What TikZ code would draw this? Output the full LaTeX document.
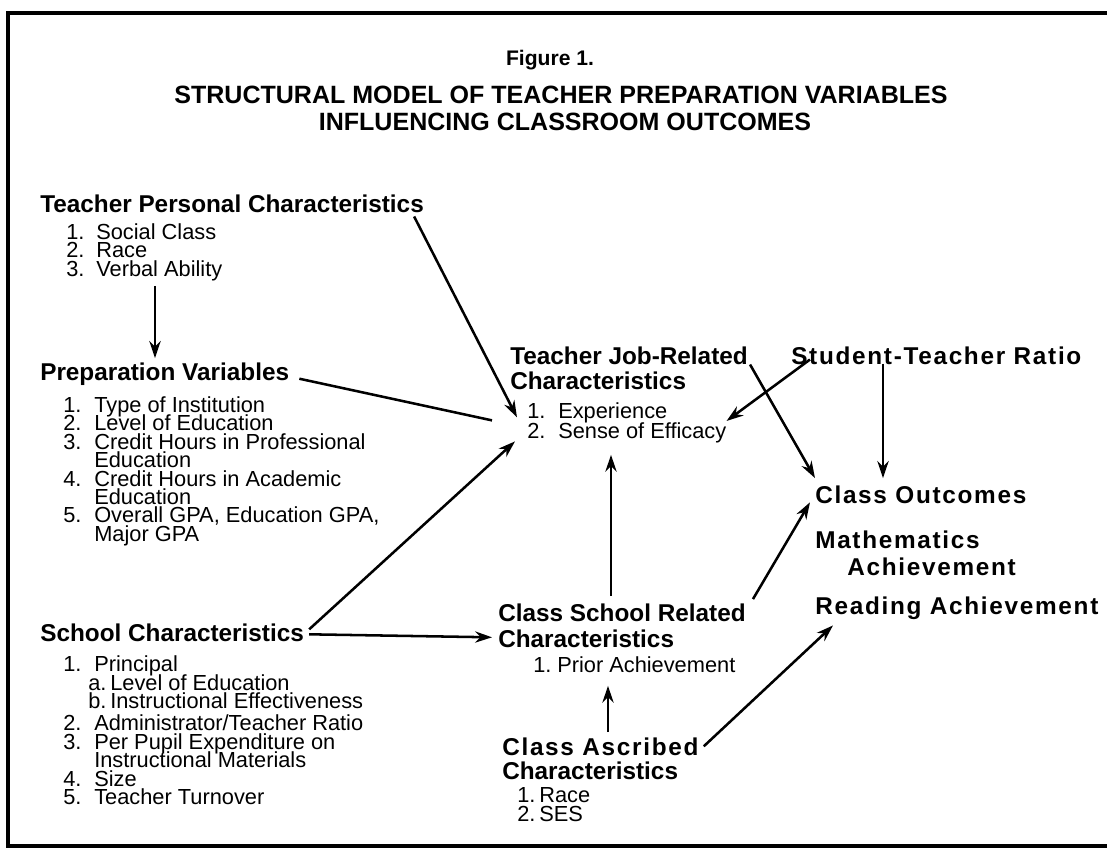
\documentclass[tikz,border=0pt]{standalone}
\usepackage{fontspec}
\setmainfont{Liberation Sans}
\newfontfamily\spacedfont[LetterSpace=7]{Liberation Sans}
\usetikzlibrary{calc,arrows.meta}

\newlength\pxu \setlength\pxu{0.025cm}
\newlength\numw
\newcommand{\itm}[2]{\makebox[\numw][l]{#1}#2}

\tikzset{
  head/.style={anchor=base west,inner sep=0pt,font=\fontsize{17.3}{20}\selectfont\bfseries},
  wide/.style={head,font=\spacedfont\fontsize{17.3}{20}\selectfont\bfseries},
  item/.style={anchor=base west,inner sep=0pt,text height=10.5pt,text depth=2.5pt,
    font=\fontsize{15.5}{18}\selectfont},
  link/.style={-{Stealth[length=12pt,width=8pt]},line width=1.8pt}
}

\begin{document}
\begin{tikzpicture}[x=0.025cm,y=-0.025cm]
    \useasboundingbox (0,0) rectangle (1107,863);
    % frame, open on the right
    \draw [line width=2.2pt] (1107,13) -- (8,13) -- (8,846) -- (1107,846);

    % heading
    \node [anchor=base,inner sep=0pt,font=\fontsize{15}{18}\selectfont\bfseries] (fig) at (550,65) {Figure 1.};
    \node [anchor=base,inner sep=0pt,font=\fontsize{17.8}{20}\selectfont\bfseries] (title1) at (561,103) {STRUCTURAL MODEL OF TEACHER PREPARATION VARIABLES};
    \node [anchor=base,inner sep=0pt,font=\fontsize{17.8}{20}\selectfont\bfseries] (title2) at (565,130) {INFLUENCING CLASSROOM OUTCOMES};

    % left column
    \node [head] (tpc) at (40,212) {Teacher Personal Characteristics};
    \setlength\numw{30\pxu}
    \foreach \y/\n/\t [count=\i] in {239/1./Social Class,257/2./Race,276/3./Verbal Ability}
        \node [item] (tpc\i) at (66,\y) {\itm{\n}{\t}};

    \node [head] (prep) at (40,380) {Preparation Variables};
    \setlength\numw{31\pxu}
    \foreach \y/\n/\t [count=\i] in {412/1./Type of Institution,430/2./Level of Education,
            449/3./Credit Hours in Professional,467//Education,486/4./Credit Hours in Academic,
            504//Education,522/5./{Overall GPA, Education GPA,},541//Major GPA}
        \node [item] (prep\i) at (63,\y) {\itm{\n}{\t}};

    \node [head] (school) at (40,641) {School Characteristics};
    \foreach \y/\n/\t [count=\i] in {671/1./Principal,730/2./{Administrator/Teacher Ratio},
            749/3./Per Pupil Expenditure on,767//Instructional Materials,786/4./Size,804/5./Teacher Turnover}
        \node [item] (school\i) at (63,\y) {\itm{\n}{\t}};
    \setlength\numw{22\pxu}
    \node [item] (princa) at (88,690) {\itm{a.}{Level of Education}};
    \node [item] (princb) at (88,708) {\itm{b.}{Instructional Effectiveness}};

    % middle column
    \node [head] (tj) at (510,364) {Teacher Job-Related};
    \node [head] (tjb) at (510,389) {Characteristics};
    \setlength\numw{31\pxu}
    \node [item] (tj1) at (527,418) {\itm{1.}{Experience}};
    \node [item] (tj2) at (527,438) {\itm{2.}{Sense of Efficacy}};

    \node [head] (csr) at (498,621) {Class School Related};
    \node [head] (csrb) at (498,647) {Characteristics};
    \setlength\numw{24\pxu}
    \node [item] (csr1) at (533,672) {\itm{1.}{Prior Achievement}};

    \node [wide] (ca) at (502,755) {Class Ascribed};
    \node [head] (cab) at (502,779) {Characteristics};
    \setlength\numw{22\pxu}
    \node [item] (ca1) at (517,802) {\itm{1.}{Race}};
    \node [item] (ca2) at (517,821) {\itm{2.}{SES}};

    % right column
    \node [wide] (str) at (791,364) {Student-Teacher Ratio};
    \node [wide] (co) at (815,503) {Class Outcomes};
    \node [wide] (math) at (815,548) {Mathematics};
    \node [wide] (ach) at (847,575) {Achievement};
    \node [wide] (read) at (815,614) {Reading Achievement};

    % paths
    \draw [link] ($(tpc.south east)+(-10,4)$) -- ($(tj1.west)+(-10,5)$);
    \draw [link] ($(tpc3.south west)+(89,6)$) -- ($(prep.north west)+(115,-4)$);
    \draw [line width=1.8pt] ($(prep.east)+(10,5)$) -- ($(tj2.west)+(-35,-12)$);
    \draw [link] ($(school.east)+(5,-3)$) -- ($(tj2.west)+(-12,9)$);
    \draw [link] ($(school.east)+(5,2)$) -- ($(csrb.west)+(-6,-1)$);
    \draw [link] ($(csr.north west)+(113,-7)$) -- ($(tj2.south west)+(84,13)$);
    \draw [link] ($(ca.north west)+(106,-5)$) -- ($(csr1.south west)+(75,10)$);
    \draw [link] ($(ca.east)+(5,0)$) -- ($(read.south west)+(18,6)$);
    \draw [link] ($(csr.north east)+(7,-4)$) -- ($(co.west)+(-5,8)$);
    \draw [link] ($(tj.south east)+(2,0)$) -- ($(co.north west)+(0,-7)$);
    \draw [link] ($(str.south west)+(19,-5)$) -- ($(tj2.north east)+(0,-2)$);
    \draw [link] ($(str.south west)+(92,-1)$) -- ($(co.north west)+(68,-7)$);
\end{tikzpicture}
\end{document}
